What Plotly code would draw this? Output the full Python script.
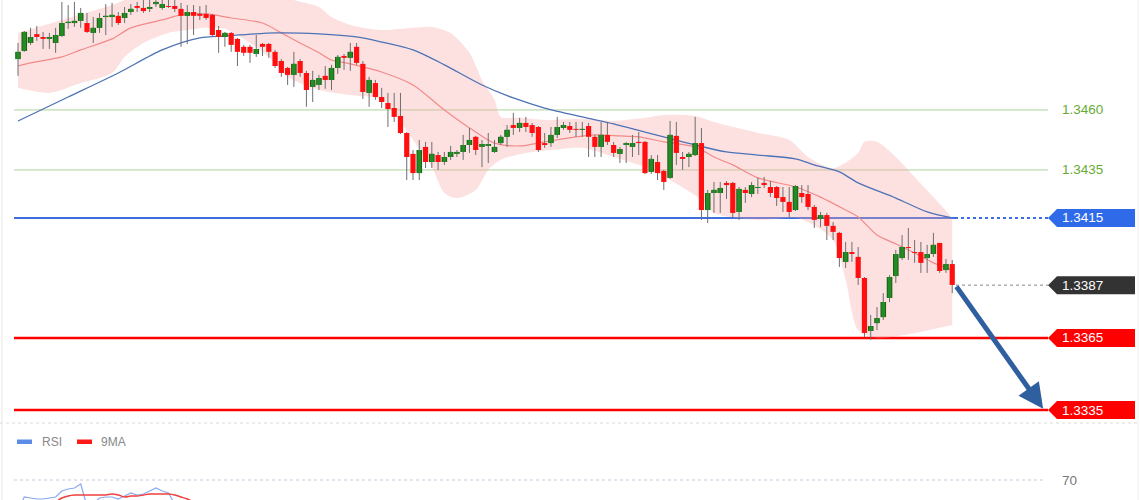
import plotly.graph_objects as go

# ---------------- data ----------------
idx = list(range(1, 151))

open_ = [
    1.34812, 1.34846, 1.34879, 1.34916, 1.34904, 1.34896, 1.34879, 1.34908, 1.34962, 1.34962,
    1.34971, 1.34962, 1.34921, 1.34942, 1.34987, 1.34987, 1.34992, 1.34983, 1.35008, 1.35033,
    1.35025, 1.35021, 1.35041, 1.35025, 1.35033, 1.35033, 1.35021, 1.34992, 1.35008, 1.35000,
    1.35000, 1.34996, 1.34933, 1.34904, 1.34921, 1.34896, 1.34863, 1.34863, 1.34833, 1.34875,
    1.34875, 1.34842, 1.34804, 1.34775, 1.34746, 1.34804, 1.34754, 1.34696, 1.34704, 1.34742,
    1.34725, 1.34775, 1.34825, 1.34817, 1.34863, 1.34792, 1.34671, 1.34712, 1.34654, 1.34629,
    1.34608, 1.34575, 1.34504, 1.34417, 1.34337, 1.34446, 1.34383, 1.34412, 1.34383, 1.34404,
    1.34417, 1.34425, 1.34454, 1.34488, 1.34446, 1.34450, 1.34425, 1.34462, 1.34488, 1.34537,
    1.34525, 1.34546, 1.34537, 1.34529, 1.34462, 1.34462, 1.34496, 1.34525, 1.34533, 1.34521,
    1.34517, 1.34533, 1.34488, 1.34446, 1.34496, 1.34454, 1.34417, 1.34454, 1.34446, 1.34467,
    1.34467, 1.34342, 1.34383, 1.34346, 1.34317, 1.34492, 1.34404, 1.34404, 1.34412, 1.34462,
    1.34183, 1.34254, 1.34254, 1.34296, 1.34296, 1.34175, 1.34267, 1.34250, 1.34275, 1.34296,
    1.34279, 1.34279, 1.34237, 1.34217, 1.34183, 1.34254, 1.34250, 1.34196, 1.34146, 1.34162,
    1.34117, 1.34088, 1.33967, 1.34008, 1.33988, 1.33900, 1.33679, 1.33712, 1.33737, 1.33817,
    1.33908, 1.33983, 1.34029, 1.34008, 1.34008, 1.33983, 1.34000, 1.34046, 1.33933, 1.33958,
]
high = [
    1.34879, 1.34929, 1.34942, 1.34950, 1.34925, 1.34921, 1.34942, 1.35050, 1.35037, 1.35050,
    1.35025, 1.35004, 1.34987, 1.35004, 1.35041, 1.35046, 1.35008, 1.35029, 1.35041, 1.35050,
    1.35058, 1.35058, 1.35070, 1.35065, 1.35060, 1.35060, 1.35046, 1.35037, 1.35037, 1.35033,
    1.35037, 1.35000, 1.34950, 1.34925, 1.34925, 1.34900, 1.34871, 1.34871, 1.34912, 1.34879,
    1.34879, 1.34850, 1.34812, 1.34779, 1.34842, 1.34812, 1.34763, 1.34763, 1.34746, 1.34783,
    1.34788, 1.34829, 1.34833, 1.34879, 1.34879, 1.34804, 1.34738, 1.34725, 1.34692, 1.34671,
    1.34671, 1.34671, 1.34508, 1.34433, 1.34475, 1.34467, 1.34467, 1.34425, 1.34425, 1.34450,
    1.34433, 1.34496, 1.34525, 1.34492, 1.34475, 1.34504, 1.34475, 1.34496, 1.34537, 1.34588,
    1.34567, 1.34571, 1.34546, 1.34533, 1.34504, 1.34529, 1.34571, 1.34550, 1.34550, 1.34550,
    1.34550, 1.34546, 1.34496, 1.34550, 1.34550, 1.34467, 1.34446, 1.34467, 1.34496, 1.34508,
    1.34471, 1.34412, 1.34412, 1.34350, 1.34554, 1.34550, 1.34425, 1.34425, 1.34571, 1.34525,
    1.34267, 1.34300, 1.34300, 1.34304, 1.34300, 1.34279, 1.34279, 1.34300, 1.34317, 1.34321,
    1.34304, 1.34283, 1.34279, 1.34279, 1.34287, 1.34287, 1.34287, 1.34204, 1.34175, 1.34171,
    1.34133, 1.34092, 1.34050, 1.34050, 1.34029, 1.33904, 1.33746, 1.33779, 1.33837, 1.33912,
    1.34017, 1.34079, 1.34108, 1.34058, 1.34050, 1.34038, 1.34088, 1.34046, 1.33979, 1.33975,
]
low = [
    1.34742, 1.34842, 1.34871, 1.34888, 1.34854, 1.34854, 1.34838, 1.34904, 1.34938, 1.34946,
    1.34942, 1.34921, 1.34879, 1.34921, 1.34912, 1.34946, 1.34954, 1.34962, 1.34996, 1.35008,
    1.35004, 1.35008, 1.35029, 1.35017, 1.35025, 1.35008, 1.34863, 1.34875, 1.34912, 1.34975,
    1.34975, 1.34908, 1.34838, 1.34863, 1.34842, 1.34783, 1.34825, 1.34796, 1.34821, 1.34825,
    1.34817, 1.34775, 1.34738, 1.34704, 1.34696, 1.34738, 1.34613, 1.34633, 1.34683, 1.34688,
    1.34683, 1.34750, 1.34767, 1.34763, 1.34788, 1.34646, 1.34613, 1.34642, 1.34608, 1.34529,
    1.34550, 1.34500, 1.34308, 1.34308, 1.34308, 1.34358, 1.34358, 1.34350, 1.34371, 1.34392,
    1.34404, 1.34392, 1.34421, 1.34412, 1.34362, 1.34379, 1.34421, 1.34454, 1.34446, 1.34496,
    1.34508, 1.34508, 1.34488, 1.34425, 1.34442, 1.34446, 1.34483, 1.34517, 1.34504, 1.34488,
    1.34488, 1.34404, 1.34404, 1.34404, 1.34454, 1.34404, 1.34379, 1.34379, 1.34404, 1.34412,
    1.34333, 1.34333, 1.34308, 1.34267, 1.34313, 1.34371, 1.34350, 1.34362, 1.34408, 1.34142,
    1.34129, 1.34171, 1.34171, 1.34229, 1.34150, 1.34142, 1.34213, 1.34237, 1.34250, 1.34275,
    1.34237, 1.34200, 1.34175, 1.34154, 1.34179, 1.34213, 1.34183, 1.34108, 1.34112, 1.34058,
    1.34058, 1.33946, 1.33942, 1.33967, 1.33871, 1.33654, 1.33642, 1.33683, 1.33725, 1.33800,
    1.33879, 1.33975, 1.33975, 1.33963, 1.33921, 1.33921, 1.33988, 1.33921, 1.33921, 1.33837,
]
close = [
    1.34842, 1.34925, 1.34904, 1.34904, 1.34896, 1.34904, 1.34912, 1.34962, 1.34967, 1.34971,
    1.35004, 1.34925, 1.34942, 1.34983, 1.34992, 1.34996, 1.34962, 1.35004, 1.35021, 1.35025,
    1.35012, 1.35029, 1.35050, 1.35041, 1.35029, 1.35021, 1.34992, 1.35008, 1.34992, 1.34992,
    1.34983, 1.34912, 1.34904, 1.34921, 1.34871, 1.34842, 1.34838, 1.34838, 1.34854, 1.34863,
    1.34842, 1.34783, 1.34754, 1.34746, 1.34792, 1.34754, 1.34683, 1.34725, 1.34733, 1.34725,
    1.34775, 1.34821, 1.34817, 1.34842, 1.34796, 1.34675, 1.34725, 1.34654, 1.34633, 1.34604,
    1.34571, 1.34504, 1.34404, 1.34337, 1.34433, 1.34383, 1.34417, 1.34383, 1.34404, 1.34425,
    1.34425, 1.34454, 1.34475, 1.34433, 1.34458, 1.34458, 1.34446, 1.34488, 1.34517, 1.34525,
    1.34546, 1.34529, 1.34504, 1.34433, 1.34454, 1.34496, 1.34529, 1.34537, 1.34517, 1.34517,
    1.34521, 1.34488, 1.34446, 1.34496, 1.34467, 1.34421, 1.34437, 1.34462, 1.34462, 1.34462,
    1.34337, 1.34396, 1.34337, 1.34300, 1.34496, 1.34421, 1.34396, 1.34417, 1.34462, 1.34183,
    1.34254, 1.34267, 1.34275, 1.34287, 1.34171, 1.34271, 1.34254, 1.34287, 1.34279, 1.34287,
    1.34254, 1.34233, 1.34217, 1.34175, 1.34283, 1.34237, 1.34196, 1.34142, 1.34162, 1.34117,
    1.34092, 1.33983, 1.34008, 1.34000, 1.33900, 1.33671, 1.33700, 1.33733, 1.33800, 1.33904,
    1.34000, 1.34029, 1.34025, 1.34004, 1.33963, 1.34000, 1.34038, 1.33929, 1.33958, 1.33871,
]

# middle Bollinger line (red MA), read at sample candles
ma_mid_x = [1, 3, 8, 11, 16, 19, 24, 27, 31, 35, 40, 43, 46, 49, 51, 54, 59, 64, 69, 74, 77,
            81, 85, 90, 93, 97, 100, 104, 109, 112, 115, 119, 125, 129, 133, 135, 138, 141,
            144, 147, 150]
ma_mid_y = [1.34783, 1.34796, 1.34821, 1.34850, 1.34896, 1.34942, 1.34975, 1.34996, 1.35000,
            1.34983, 1.34962, 1.34921, 1.34879, 1.34838, 1.34808, 1.34792, 1.34758, 1.34704,
            1.34600, 1.34508, 1.34462, 1.34450, 1.34467, 1.34488, 1.34496, 1.34492, 1.34488,
            1.34467, 1.34446, 1.34404, 1.34371, 1.34317, 1.34279, 1.34237, 1.34183, 1.34154,
            1.34079, 1.34042, 1.34004, 1.33963, 1.33933]

# slow moving average (blue)
ma_slow_x = [1, 9, 17, 24, 30, 34, 42, 49, 55, 59, 64, 69, 75, 80, 85, 91, 96, 101, 107, 109,
             114, 119, 125, 128, 132, 135, 141, 146, 150]
ma_slow_y = [1.34554, 1.34654, 1.34754, 1.34850, 1.34900, 1.34908, 1.34921, 1.34917, 1.34904,
             1.34883, 1.34850, 1.34788, 1.34704, 1.34650, 1.34608, 1.34571, 1.34542, 1.34508,
             1.34467, 1.34454, 1.34425, 1.34412, 1.34396, 1.34371, 1.34342, 1.34296, 1.34233,
             1.34175, 1.34150]

# Bollinger upper / lower
bb_up_x = [1, 8, 16, 19, 24, 31, 40, 45, 49, 51, 54, 59, 64, 67, 70, 73, 75, 77, 78, 81, 85,
           91, 96, 101, 104, 109, 112, 117, 119, 124, 127, 131, 135, 136, 138, 141, 144, 147, 150]
bb_up_y = [1.34921, 1.34975, 1.35037, 1.35070, 1.35120, 1.35140, 1.35108, 1.35058, 1.35029,
           1.34987, 1.34954, 1.34933, 1.34942, 1.34946, 1.34921, 1.34838, 1.34725, 1.34642,
           1.34571, 1.34567, 1.34558, 1.34563, 1.34554, 1.34567, 1.34579, 1.34575, 1.34550,
           1.34517, 1.34504, 1.34475, 1.34404, 1.34358, 1.34421, 1.34467, 1.34467, 1.34404,
           1.34321, 1.34237, 1.34150]
bb_lo_x = [1, 6, 11, 16, 18, 21, 25, 28, 31, 34, 38, 41, 44, 49, 54, 59, 64, 67, 69, 71, 74,
           76, 78, 82, 86, 91, 96, 101, 105, 110, 112, 119, 125, 127, 131, 133, 135, 138, 144, 150]
bb_lo_y = [1.34692, 1.34671, 1.34712, 1.34754, 1.34821, 1.34879, 1.34921, 1.34933, 1.34942,
           1.34938, 1.34879, 1.34821, 1.34738, 1.34683, 1.34662, 1.34642, 1.34475, 1.34362,
           1.34254, 1.34233, 1.34267, 1.34350, 1.34392, 1.34421, 1.34433, 1.34442, 1.34404,
           1.34362, 1.34308, 1.34225, 1.34171, 1.34142, 1.34150, 1.34133, 1.34058, 1.33892,
           1.33683, 1.33650, 1.33671, 1.33704]

# RSI panel (only the top of the panel is visible)
rsi_x = list(range(1, 35))
rsi = [55, 61.5, 61, 60.5, 60.5, 61, 61.5, 64.5, 65.5, 66, 68, 57, 58, 61, 61.5, 61.5, 60.5,
       62, 63.5, 62.5, 63, 64.5, 66, 64.5, 63.5, 58, 52, 54, 51, 50, 49, 44, 40, 42]
rsi_ma_x = list(range(1, 33))
rsi_ma = [50, 52, 54, 55.5, 56.5, 57.5, 59, 61, 62, 62.5, 62.5, 62.5, 62.5, 62.5, 62.5, 63,
          62.5, 61.5, 62, 62, 62.5, 63, 63, 63, 63, 62.5, 61.5, 60.5, 59, 57, 55, 53]
rsi_level = 70

# price levels
resist_levels = [1.3460, 1.3435]
pivot_level = 1.3415
last_price = 1.3387
support_levels = [1.3365, 1.3335]
target_price = 1.3335

# ---------------- figure ----------------
W, H = 1140, 500
FONT = "Liberation Sans, Arial, sans-serif"
WICK = "#6e6e6e"
BODY_W = 4.6   # px

def px(x):
    return x / W

fig = go.Figure()

# Bollinger band
fig.add_trace(go.Scatter(x=bb_up_x, y=bb_up_y, mode="lines", line=dict(width=0, shape="spline", smoothing=0.8),
                         hoverinfo="skip", showlegend=False))
fig.add_trace(go.Scatter(x=bb_lo_x, y=bb_lo_y, mode="lines", line=dict(width=0, shape="spline", smoothing=0.8),
                         fill="tonexty", fillcolor="rgba(248,165,165,0.33)", hoverinfo="skip", showlegend=False))
# moving averages
fig.add_trace(go.Scatter(x=ma_mid_x, y=ma_mid_y, mode="lines",
                         line=dict(color="#f28a8a", width=1.2, shape="spline", smoothing=0.8),
                         hoverinfo="skip", showlegend=False))
fig.add_trace(go.Scatter(x=ma_slow_x, y=ma_slow_y, mode="lines",
                         line=dict(color="#4d72b6", width=1.3, shape="spline", smoothing=0.8),
                         hoverinfo="skip", showlegend=False))

# candle wicks (grey), built from the high/low arrays
wick_x, wick_y = [], []
for i, h, l in zip(idx, high, low):
    wick_x += [i, i, None]
    wick_y += [l, h, None]
fig.add_trace(go.Scatter(x=wick_x, y=wick_y, mode="lines", line=dict(color=WICK, width=1),
                         hoverinfo="skip", showlegend=False))

# candle bodies: thick segments from open to close, split by direction
up_x, up_y, dn_x, dn_y = [], [], [], []
for i, o, c in zip(idx, open_, close):
    if c >= o:
        up_x += [i, i, None]
        up_y += [o, c, None]
    else:
        dn_x += [i, i, None]
        dn_y += [o, c, None]
fig.add_trace(go.Scatter(x=up_x, y=up_y, mode="lines", line=dict(color="#1c5f1c", width=BODY_W + 1),
                         hoverinfo="skip", showlegend=False))
fig.add_trace(go.Scatter(x=up_x, y=up_y, mode="lines", line=dict(color="#238c23", width=BODY_W - 1),
                         hoverinfo="skip", showlegend=False))
fig.add_trace(go.Scatter(x=dn_x, y=dn_y, mode="lines", line=dict(color="#ff0f0f", width=BODY_W + 0.6),
                         hoverinfo="skip", showlegend=False))

# RSI panel
fig.add_trace(go.Scatter(x=rsi_x, y=rsi, yaxis="y2", mode="lines",
                         line=dict(color="#8aa8f0", width=1.2), hoverinfo="skip", showlegend=False))
fig.add_trace(go.Scatter(x=rsi_ma_x, y=rsi_ma, yaxis="y2", mode="lines",
                         line=dict(color="#f04040", width=1.5, shape="spline"), hoverinfo="skip",
                         showlegend=False))

shapes = []
annotations = []
X0, X1 = px(14), px(1048)
TAG_H = 0.000375

for lv in resist_levels:
    shapes.append(dict(type="line", xref="paper", yref="y", x0=X0, x1=X1, y0=lv, y1=lv,
                       line=dict(color="#aed39a", width=1), layer="below"))
    annotations.append(dict(xref="paper", yref="y", x=px(1060), y=lv, text=f"{lv:.4f}",
                            showarrow=False, xanchor="left", yanchor="middle",
                            font=dict(family=FONT, size=13.5, color="#68ab34")))

def tag(level, color):
    p = (f"M {px(1048)},{level} L {px(1057)},{level + TAG_H} L {px(1135)},{level + TAG_H} "
         f"L {px(1135)},{level - TAG_H} L {px(1057)},{level - TAG_H} Z")
    shapes.append(dict(type="path", xref="paper", yref="y", path=p, fillcolor=color,
                       line=dict(width=0), layer="above"))
    annotations.append(dict(xref="paper", yref="y", x=px(1060), y=level, text=f"{level:.4f}",
                            showarrow=False, xanchor="left", yanchor="middle",
                            font=dict(family=FONT, size=13.5, color="white")))

# pivot (blue)
shapes.append(dict(type="line", xref="paper", yref="y", x0=X0, x1=px(955), y0=pivot_level, y1=pivot_level,
                   line=dict(color="#3d6fe0", width=2), layer="below"))
shapes.append(dict(type="line", xref="paper", yref="y", x0=px(955), x1=X1, y0=pivot_level, y1=pivot_level,
                   line=dict(color="#3d6fe0", width=2, dash="dot"), layer="below"))
tag(pivot_level, "#2f6ae8")

# last price
shapes.append(dict(type="line", xref="paper", yref="y", x0=px(956), x1=X1, y0=last_price, y1=last_price,
                   line=dict(color="#888888", width=1, dash="dot"), layer="below"))
tag(last_price, "#333333")

# supports (red)
for lv in support_levels:
    shapes.append(dict(type="line", xref="paper", yref="y", x0=X0, x1=X1, y0=lv, y1=lv,
                       line=dict(color="#ff0000", width=2.5), layer="below"))
    tag(lv, "#ff0000")

# panel separator and borders
sep_y = (H - 423) / H
shapes.append(dict(type="line", xref="paper", yref="paper", x0=0, x1=1, y0=sep_y, y1=sep_y,
                   line=dict(color="#d6dcd6", width=1, dash="dot")))
shapes.append(dict(type="line", xref="paper", yref="paper", x0=px(2), x1=px(2), y0=0, y1=1,
                   line=dict(color="#e4e8e4", width=1)))
shapes.append(dict(type="line", xref="paper", yref="paper", x0=px(1138), x1=px(1138), y0=0, y1=1,
                   line=dict(color="#eceeec", width=1)))

# RSI 70 level
shapes.append(dict(type="line", xref="paper", yref="y2", x0=X0, x1=px(1046), y0=rsi_level, y1=rsi_level,
                   line=dict(color="#c4c9de", width=1, dash="dot")))
annotations.append(dict(xref="paper", yref="y2", x=px(1060), y=rsi_level, text=str(rsi_level),
                        showarrow=False, xanchor="left", yanchor="middle",
                        font=dict(family=FONT, size=13.5, color="#777777")))

# RSI legend
ly0, ly1 = (H - 444) / H, (H - 439.5) / H
shapes.append(dict(type="rect", xref="paper", yref="paper", x0=px(17), x1=px(32), y0=ly0, y1=ly1,
                   fillcolor="#5d8ce8", line=dict(width=0)))
shapes.append(dict(type="rect", xref="paper", yref="paper", x0=px(77), x1=px(92), y0=ly0, y1=ly1,
                   fillcolor="#ff1a1a", line=dict(width=0)))
annotations.append(dict(xref="paper", yref="paper", x=px(40), y=(H - 442) / H, text="RSI",
                        showarrow=False, xanchor="left", yanchor="middle",
                        font=dict(family=FONT, size=12, color="#888888")))
annotations.append(dict(xref="paper", yref="paper", x=px(99), y=(H - 442) / H, text="9MA",
                        showarrow=False, xanchor="left", yanchor="middle",
                        font=dict(family=FONT, size=12, color="#888888")))

# forecast arrow
annotations.append(dict(x=164.5, y=target_price + 0.00005, xref="x", yref="y",
                        ax=150.5, ay=last_price, axref="x", ayref="y",
                        showarrow=True, arrowhead=2, arrowsize=1, arrowwidth=5,
                        arrowcolor="#2f5f9e", text="", standoff=0))

# x range: candle 1 at 18 px, candle spacing 6.27 px
X_LO = 1 - 18 / 6.27
X_HI = X_LO + W / 6.27

fig.update_layout(
    width=W, height=H,
    margin=dict(l=0, r=0, t=0, b=0),
    paper_bgcolor="white", plot_bgcolor="white",
    showlegend=False,
    hovermode=False,
    xaxis=dict(range=[X_LO, X_HI], visible=False, fixedrange=True),
    yaxis=dict(domain=[(H - 422) / H, 1], range=[1.33300, 1.35058], visible=False, fixedrange=True),
    yaxis2=dict(domain=[0, (H - 427) / H], range=[60, 96.5], visible=False, anchor="x", fixedrange=True),
    shapes=shapes,
    annotations=annotations,
)

fig.write_html("out.html", config={"displayModeBar": False},
               post_script="document.body.style.margin='0';document.body.style.overflow='hidden';")
